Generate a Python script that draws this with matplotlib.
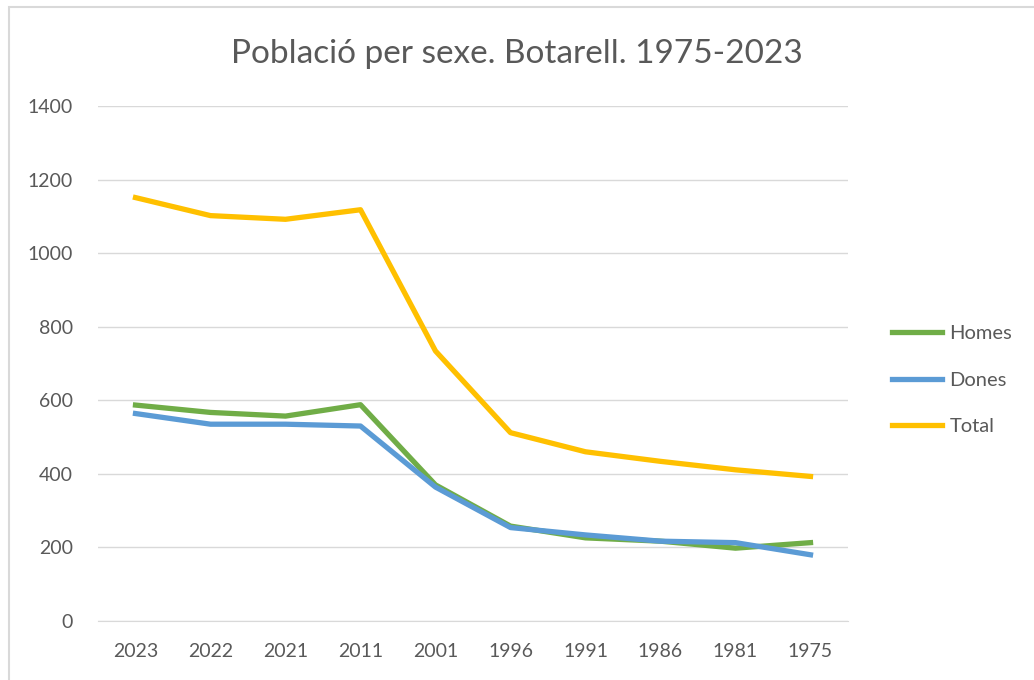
import matplotlib.pyplot as plt
from matplotlib.patches import Rectangle

# Dades llegides del gràfic
years = ['2023', '2022', '2021', '2011', '2001', '1996', '1991', '1986', '1981', '1975']
homes = [587, 567, 557, 588, 370, 258, 226, 217, 198, 213]
dones = [564, 535, 535, 530, 364, 254, 234, 217, 213, 180]
total = [1151, 1102, 1092, 1118, 734, 512, 460, 434, 411, 393]

plt.rcParams['font.family'] = ['Lato', 'DejaVu Sans']
txt = '#595959'

fig = plt.figure(figsize=(10.34, 6.8), dpi=100)
ax = fig.add_axes([98 / 1034, 59 / 680, 750 / 1034, 515 / 680])

x = list(range(len(years)))
ax.plot(x, homes, color='#70AD47', lw=3.8, label='Homes')
ax.plot(x, dones, color='#5B9BD5', lw=3.8, label='Dones')
ax.plot(x, total, color='#FFC000', lw=3.8, label='Total')

ax.set_xlim(-0.5, len(years) - 0.5)
ax.set_ylim(0, 1400)
ax.set_yticks(range(0, 1401, 200))
ax.set_xticks(x)
ax.set_xticklabels(years)
ax.grid(axis='y', color='#D9D9D9', lw=1)
ax.set_axisbelow(True)
for s in ['top', 'right', 'left']:
    ax.spines[s].set_visible(False)
ax.spines['bottom'].set_color('#D9D9D9')
ax.tick_params(length=0, labelsize=14, colors=txt)
ax.tick_params(axis='x', pad=16)
ax.tick_params(axis='y', pad=18)

fig.text(0.5, 0.921, 'Població per sexe. Botarell. 1975-2023', ha='center', va='center',
         fontsize=24, color=txt)

fig.legend(loc='center left', bbox_to_anchor=(0.845, 0.441), frameon=False,
           fontsize=14.5, labelcolor=txt, handlelength=2.5, labelspacing=1.45,
           handletextpad=0.35)

# cantonada del marc del gràfic (només vores esquerra i superior visibles)
fig.patches.append(Rectangle((9 / 1034, -0.1), 1.2, 1.1 - 7 / 680, transform=fig.transFigure,
                             fill=False, edgecolor='#D9D9D9', lw=1.5))

fig.savefig('out.png', dpi=100)
